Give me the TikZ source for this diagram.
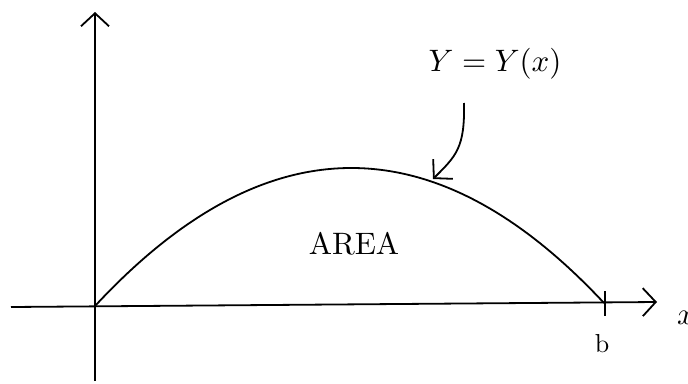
\documentclass[tikz,border=0pt]{standalone}
\usetikzlibrary{arrows.meta}
\begin{document}
\begin{tikzpicture}[x=1pt,y=-1pt,
  axis/.style={line width=1.8pt,-{Straight Barb[length=13pt,width=28pt]}},
  curve/.style={line width=1.8pt},
  big/.style={scale=3.1, inner sep=0pt},
  small/.style={scale=2.6, inner sep=0pt}]
\useasboundingbox (0,0) rectangle (688,383);
\coordinate (xl) at (11,307);
\coordinate (xr) at (657,302);
\coordinate (yb) at (95,381);
\coordinate (yt) at (95,12);
\coordinate (O) at (95,306);
\coordinate (B) at (604,303);
\coordinate (tt) at (605,291);
\coordinate (tb) at (605,316);
\coordinate (as) at (464,103);
\coordinate (ae) at (433,179);
\draw[axis] (xl) -- (xr);
\draw[axis] (yb) -- (yt);
\draw[curve] (O) .. controls (265,123) and (435,122) .. (B);
\draw[curve] (tt) -- (tb);
\draw[axis] (as) .. controls (465,148) and (456,156) .. (ae);
\node[big] (lab) at (495,64) {$Y=Y(x)$};
\node[big] (area) at (354,244) {AREA};
\node[small] (b) at (602,344) {b};
\node[big] (xlab) at (686,318) {$x$};
\end{tikzpicture}
\end{document}
